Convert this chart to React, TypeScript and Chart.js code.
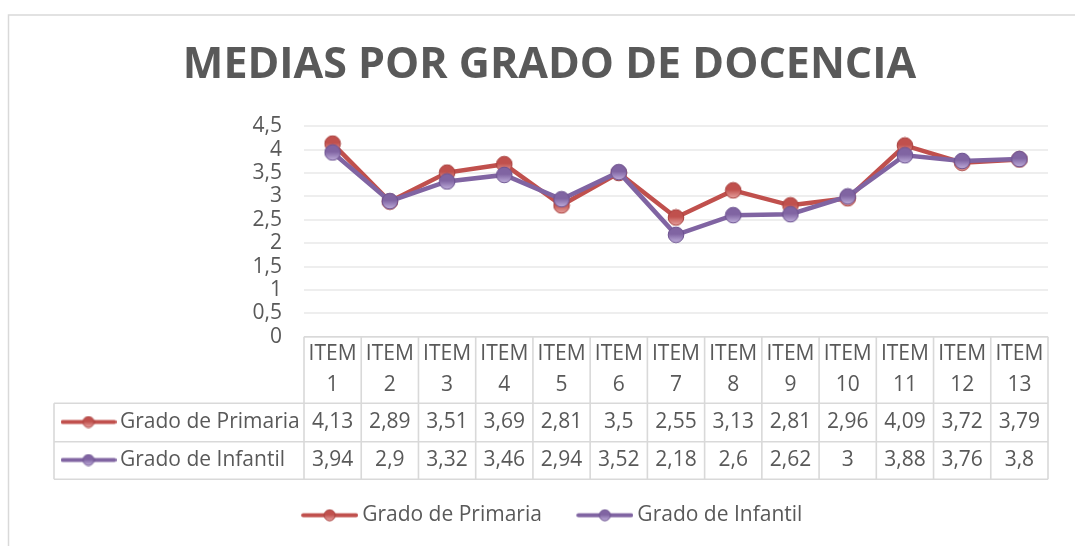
import { useEffect, useRef } from 'react';
import { Chart, registerables } from 'chart.js';

Chart.register(...registerables);

// ---------- data ----------
const items = ['ITEM 1', 'ITEM 2', 'ITEM 3', 'ITEM 4', 'ITEM 5', 'ITEM 6', 'ITEM 7', 'ITEM 8', 'ITEM 9', 'ITEM 10', 'ITEM 11', 'ITEM 12', 'ITEM 13'];
const seriesNames = ['Grado de Primaria', 'Grado de Infantil'];
const primaria = [4.13, 2.89, 3.51, 3.69, 2.81, 3.5, 2.55, 3.13, 2.81, 2.96, 4.09, 3.72, 3.79];
const infantil = [3.94, 2.9, 3.32, 3.46, 2.94, 3.52, 2.18, 2.6, 2.62, 3, 3.88, 3.76, 3.8];
const yMin = 0;
const yMax = 4.5;
const yStep = 0.5;
const titleText = 'MEDIAS POR GRADO DE DOCENCIA';

const seriesData = [primaria, infantil];
const colors = ['#C0504D', '#8064A2'];
const lightColors = ['#E7A3A1', '#BFAEDB'];
const darkColors = ['#A8403D', '#6C5290'];
const TEXT = '#595959';
const FONT = '"Open Sans", "DejaVu Sans", sans-serif';

const fmt = (v: number) => String(v).replace('.', ',');

function makeMarker(i: number, r: number): HTMLCanvasElement {
  const size = Math.ceil(r * 2 + 2);
  const c = document.createElement('canvas');
  c.width = size;
  c.height = size;
  const ctx = c.getContext('2d')!;
  const cx = size / 2;
  const g = ctx.createLinearGradient(0, cx - r, 0, cx + r);
  g.addColorStop(0, colors[i]);
  g.addColorStop(0.45, colors[i]);
  g.addColorStop(1, lightColors[i]);
  ctx.beginPath();
  ctx.arc(cx, cx, r, 0, Math.PI * 2);
  ctx.fillStyle = g;
  ctx.fill();
  ctx.lineWidth = 1;
  ctx.strokeStyle = darkColors[i];
  ctx.stroke();
  return c;
}

// key = line with marker in the middle; leftPad adds transparent space on the left
function makeKey(i: number, w: number, lw: number, r: number, leftPad = 0): HTMLCanvasElement {
  const h = Math.ceil(r * 2 + 2);
  const c = document.createElement('canvas');
  c.width = w + leftPad;
  c.height = h;
  const ctx = c.getContext('2d')!;
  const cy = h / 2;
  ctx.strokeStyle = colors[i];
  ctx.lineWidth = lw;
  ctx.lineCap = 'round';
  ctx.beginPath();
  ctx.moveTo(leftPad + lw / 2, cy);
  ctx.lineTo(leftPad + w - lw / 2, cy);
  ctx.stroke();
  const m = makeMarker(i, r);
  ctx.drawImage(m, leftPad + w / 2 - m.width / 2, cy - m.height / 2);
  return c;
}

export default function App() {
  const ref = useRef<HTMLCanvasElement | null>(null);

  useEffect(() => {
    const canvas = ref.current;
    if (!canvas) return;

    const markers = [makeMarker(0, 7.8), makeMarker(1, 7.8)];
    const legendKeys = [makeKey(0, 57, 4, 5.5, 11), makeKey(1, 57, 4, 5.5, 11)];
    const tableKeys = [makeKey(0, 56, 4, 5.5), makeKey(1, 56, 4, 5.5)];

    const bgPlugin = {
      id: 'bgBorder',
      beforeDraw(chart: any) {
        const { ctx, width, height } = chart;
        ctx.save();
        ctx.fillStyle = '#ffffff';
        ctx.fillRect(0, 0, width, height);
        ctx.strokeStyle = '#d9d9d9';
        ctx.lineWidth = 1.5;
        ctx.strokeRect(8.5, 15, width + 20, height + 20);
        ctx.restore();
      },
    };

    const tablePlugin = {
      id: 'dataTable',
      afterDraw(chart: any) {
        const { ctx, chartArea } = chart;
        const x = chart.scales.x;
        const n = items.length;
        const colW = x.getPixelForValue(1) - x.getPixelForValue(0);
        const edges: number[] = [];
        for (let i = 0; i <= n; i++) edges.push(x.getPixelForValue(0) - colW / 2 + i * colW);
        const top = chartArea.bottom;
        const hdrBottom = top + 66.6;
        const rowBounds = [hdrBottom, hdrBottom + 38.4, hdrBottom + 76];
        const tableLeft = 54;
        const right = edges[n];

        ctx.save();
        ctx.strokeStyle = '#d9d9d9';
        ctx.lineWidth = 1.6;
        ctx.beginPath();
        ctx.moveTo(edges[0], top);
        ctx.lineTo(right, top);
        for (const yb of rowBounds) {
          ctx.moveTo(tableLeft, yb);
          ctx.lineTo(right, yb);
        }
        for (const e of edges) {
          ctx.moveTo(e, top);
          ctx.lineTo(e, rowBounds[2]);
        }
        ctx.moveTo(tableLeft, rowBounds[0]);
        ctx.lineTo(tableLeft, rowBounds[2]);
        ctx.stroke();

        ctx.fillStyle = TEXT;
        ctx.font = `21px ${FONT}`;
        ctx.textBaseline = 'middle';
        for (let s = 0; s < seriesData.length; s++) {
          const mid = (rowBounds[s] + rowBounds[s + 1]) / 2 - 0.5;
          ctx.textAlign = 'center';
          seriesData[s].forEach((v, i) => {
            ctx.fillText(fmt(v), x.getPixelForValue(i), mid);
          });
          const k = tableKeys[s];
          ctx.drawImage(k, 60.5, mid - k.height / 2);
          ctx.textAlign = 'left';
          ctx.fillText(seriesNames[s], 120, mid);
        }
        ctx.restore();
      },
    };

    const chart = new Chart(canvas, {
      type: 'line',
      data: {
        labels: items.map((s) => s.split(' ')),
        datasets: seriesData.map((d, i) => ({
          label: seriesNames[i],
          data: d,
          borderColor: colors[i],
          backgroundColor: colors[i],
          borderWidth: 4.5,
          pointStyle: markers[i] as any,
          pointRadius: 8,
          pointHoverRadius: 8,
          tension: 0,
          fill: false,
          order: i === 0 ? 1 : 0,
        })),
      },
      options: {
        animation: false,
        responsive: false,
        devicePixelRatio: 1,
        events: [],
        layout: { padding: { left: 51, right: 27, top: 0, bottom: 10.3 } },
        scales: {
          x: {
            type: 'category',
            offset: true,
            grid: { display: false, drawTicks: false },
            border: { display: false },
            ticks: {
              autoSkip: false,
              maxRotation: 0,
              minRotation: 0,
              padding: 2,
              color: TEXT,
              font: { family: FONT, size: 21, lineHeight: 1.476 },
            },
            afterFit: (scale: any) => {
              scale.height = 138;
            },
          },
          y: {
            min: yMin,
            max: yMax,
            grid: { color: '#eeeeee', lineWidth: 2, drawTicks: false },
            border: { display: false },
            ticks: {
              stepSize: yStep,
              autoSkip: false,
              padding: 22,
              color: TEXT,
              font: { family: FONT, size: 21, lineHeight: 1 },
              callback: (v: any) => fmt(Number(v)),
            },
            afterFit: (scale: any) => {
              scale.width = 253;
            },
          },
        },
        plugins: {
          tooltip: { enabled: false },
          title: {
            display: true,
            text: titleText,
            color: TEXT,
            font: { family: FONT, size: 43, weight: 'bold', lineHeight: 1.2 },
            padding: { top: 39.6, bottom: 35.1 },
          },
          legend: {
            display: true,
            position: 'bottom',
            labels: {
              usePointStyle: true,
              pointStyleWidth: 55,
              padding: 30,
              color: TEXT,
              font: { family: FONT, size: 21 },
              generateLabels: (ch: any) =>
                ch.data.datasets.map((ds: any, i: number) => ({
                  text: ds.label,
                  pointStyle: legendKeys[i],
                  fillStyle: colors[i],
                  strokeStyle: colors[i],
                  lineWidth: 0,
                  hidden: false,
                  datasetIndex: i,
                  fontColor: TEXT,
                })),
            },
          },
        },
      },
      plugins: [bgPlugin, tablePlugin],
    });

    return () => chart.destroy();
  }, []);

  return (
    <div style={{ position: 'fixed', left: 0, top: 0, width: 1075, height: 546, overflow: 'hidden', background: '#fff' }}>
      <canvas ref={ref} width={1075} height={546} style={{ display: 'block', width: 1075, height: 546 }} />
    </div>
  );
}
